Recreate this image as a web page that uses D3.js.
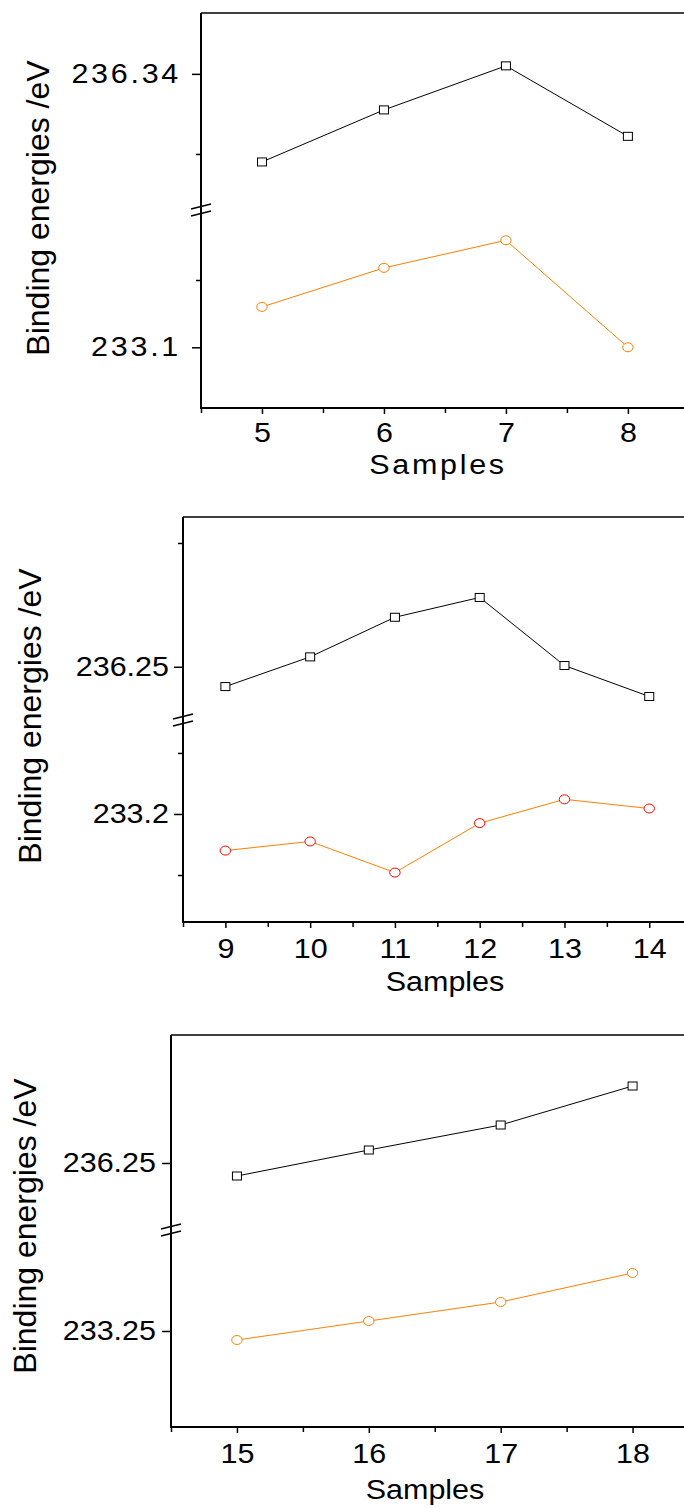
<!DOCTYPE html>
<html>
<head>
<meta charset="utf-8">
<script src="https://cdn.jsdelivr.net/npm/d3@7.9.0/dist/d3.min.js"></script>
<style>
  html, body { margin: 0; padding: 0; background: #fff; }
  svg { display: block; font-family: "Liberation Sans", Arial, sans-serif; }
</style>
</head>
<body>
<div id="chart"></div>
<script>
// ---- data ----
const samples1 = [5, 6, 7, 8];
const upper1 = [236.329, 236.3355, 236.341, 236.3322];
const lower1 = [233.130, 233.159, 233.1795, 233.100];

const samples2 = [9, 10, 11, 12, 13, 14];
const upper2 = [236.2484, 236.2508, 236.254, 236.2556, 236.2501, 236.2476];
const lower2 = [233.194, 233.1955, 233.1904, 233.1985, 233.2024, 233.2009];

const samples3 = [15, 16, 17, 18];
const upper3 = [236.2487, 236.2513, 236.2538, 236.2577];
const lower3 = [233.2491, 233.251, 233.2529, 233.2558];

// y tick values (major labelled, minor unlabelled)
const yMajorUp1 = [236.34], yMinorUp1 = [236.33];
const yMajorLo1 = [233.1],  yMinorLo1 = [233.15];
const yMajorUp2 = [236.25], yMinorUp2 = [236.26];
const yMajorLo2 = [233.2],  yMinorLo2 = [233.21, 233.19];
const yMajorUp3 = [236.25], yMinorUp3 = [];
const yMajorLo3 = [233.25], yMinorLo3 = [];

const xTitle = 'Samples';
const yTitle = 'Binding energies /eV';

// ---- layout ----
const W = 684, H = 1508;
const sx = 1.13;          // source image is slightly stretched horizontally
const orange = '#FF8000';

const svg = d3.select('#chart').append('svg')
  .attr('width', W).attr('height', H);
svg.append('rect').attr('width', W).attr('height', H).attr('fill', '#fff');

const panels = [
  { xs: samples1, up: upper1, lo: lower1,
    majUp: yMajorUp1, minUp: yMinorUp1, majLo: yMajorLo1, minLo: yMinorLo1,
    left: 201, top: 13, brk: 210, bottom: 408,
    xDom: [4.5, 8.46], upDom: [236.323, 236.3476], loDom: [233.0549, 233.202],
    spacing: 2.4, yLabOff: 20, circ: orange, xPad: 9,
    titleX: 438, titleY: 474, yTitleX: 49, yTitleY: 208 },
  { xs: samples2, up: upper2, lo: lower2,
    majUp: yMajorUp2, minUp: yMinorUp2, majLo: yMajorLo2, minLo: yMinorLo2,
    left: 183, top: 517, brk: 720, bottom: 922,
    xDom: [8.5, 14.41], upDom: [236.2457, 236.2621], loDom: [233.1823, 233.2154],
    spacing: 0, yLabOff: 14, circ: '#FF0000', xPad: 11,
    titleX: 445, titleY: 991, yTitleX: 41, yTitleY: 716 },
  { xs: samples3, up: upper3, lo: lower3,
    majUp: yMajorUp3, minUp: yMinorUp3, majLo: yMajorLo3, minLo: yMinorLo3,
    left: 171, top: 1035, brk: 1230, bottom: 1427,
    xDom: [14.5, 18.39], upDom: [236.2433, 236.2628], loDom: [233.2404, 233.2601],
    spacing: 0, yLabOff: 15, circ: orange, xPad: 11,
    titleX: 425, titleY: 1499, yTitleX: 36, yTitleY: 1226 }
];

panels.forEach(p => {
  const g = svg.append('g');
  const x = d3.scaleLinear().domain(p.xDom).range([p.left, W]);
  const yUp = d3.scaleLinear().domain(p.upDom).range([p.brk, p.top]);
  const yLo = d3.scaleLinear().domain(p.loDom).range([p.bottom, p.brk]);

  // frame: top border, left axis, bottom axis
  g.append('line').attr('x1', p.left).attr('x2', W).attr('y1', p.top).attr('y2', p.top)
    .attr('stroke', '#000').attr('stroke-width', 1.5);
  g.append('line').attr('x1', p.left).attr('x2', p.left).attr('y1', p.top).attr('y2', p.bottom + 1)
    .attr('stroke', '#000').attr('stroke-width', 2);
  g.append('line').attr('x1', p.left - 1).attr('x2', W).attr('y1', p.bottom).attr('y2', p.bottom)
    .attr('stroke', '#000').attr('stroke-width', 2);

  // y axes (two segments)
  const fmt = d => String(d);
  [[yUp, p.majUp, p.minUp], [yLo, p.majLo, p.minLo]].forEach(([sc, maj, mn]) => {
    const ax = g.append('g').attr('transform', `translate(${p.left},0)`)
      .call(d3.axisLeft(sc).tickValues(maj).tickSize(9).tickFormat(fmt));
    const axm = g.append('g').attr('transform', `translate(${p.left},0)`)
      .call(d3.axisLeft(sc).tickValues(mn).tickSize(5).tickFormat(''));
    [ax, axm].forEach(a => {
      a.select('.domain').remove();
      a.selectAll('line').attr('stroke-width', 1.5);
    });
    ax.selectAll('text')
      .attr('x', -p.yLabOff / sx)
      .attr('transform', `scale(${sx},1)`)
      .attr('font-size', 27)
      .attr('letter-spacing', p.spacing)
      .attr('fill', '#000');
  });

  // x axis
  const minorX = d3.range(p.xDom[0], p.xDom[1], 1).filter(v => !p.xs.includes(v));
  const xa = g.append('g').attr('transform', `translate(0,${p.bottom})`)
    .call(d3.axisBottom(x).tickValues(p.xs).tickSize(6).tickPadding(p.xPad).tickFormat(d3.format('d')));
  const xm = g.append('g').attr('transform', `translate(0,${p.bottom})`)
    .call(d3.axisBottom(x).tickValues(minorX).tickSize(5).tickFormat(''));
  [xa, xm].forEach(a => {
    a.select('.domain').remove();
    a.selectAll('line').attr('stroke-width', 1.5);
  });
  xa.selectAll('text')
    .attr('transform', `scale(${sx},1)`)
    .attr('font-size', 27)
    .attr('fill', '#000');

  // axis break marks
  [-3.5, 3.5].forEach(dy => {
    g.append('line')
      .attr('x1', p.left - 10).attr('y1', p.brk + dy + 2.5)
      .attr('x2', p.left + 10).attr('y2', p.brk + dy - 2.5)
      .attr('stroke', '#000').attr('stroke-width', 1.5);
  });

  // series
  const lineUp = d3.line().x((d, i) => x(p.xs[i])).y(d => yUp(d));
  const lineLo = d3.line().x((d, i) => x(p.xs[i])).y(d => yLo(d));

  g.append('path').datum(p.up).attr('d', lineUp)
    .attr('fill', 'none').attr('stroke', '#000').attr('stroke-width', 1);
  g.append('path').datum(p.lo).attr('d', lineLo)
    .attr('fill', 'none').attr('stroke', orange).attr('stroke-width', 1);

  g.selectAll('.sq').data(p.up).join('rect')
    .attr('class', 'sq')
    .attr('x', (d, i) => x(p.xs[i]) - 4.5)
    .attr('y', d => yUp(d) - 4)
    .attr('width', 9).attr('height', 8)
    .attr('fill', '#fff').attr('stroke', '#000').attr('stroke-width', 1);

  g.selectAll('.ci').data(p.lo).join('ellipse')
    .attr('class', 'ci')
    .attr('cx', (d, i) => x(p.xs[i]))
    .attr('cy', d => yLo(d))
    .attr('rx', 5.2).attr('ry', 4.5)
    .attr('fill', '#fff').attr('stroke', p.circ).attr('stroke-width', 1);

  // titles
  g.append('text')
    .attr('transform', `translate(${p.titleX},${p.titleY}) scale(${sx},1)`)
    .attr('text-anchor', 'middle')
    .attr('font-size', 27)
    .attr('letter-spacing', p.spacing)
    .text(xTitle);

  g.append('text')
    .attr('transform', `translate(${p.yTitleX},${p.yTitleY}) rotate(-90)`)
    .attr('text-anchor', 'middle')
    .attr('font-size', 32)
    .text(yTitle);
});
</script>
</body>
</html>
